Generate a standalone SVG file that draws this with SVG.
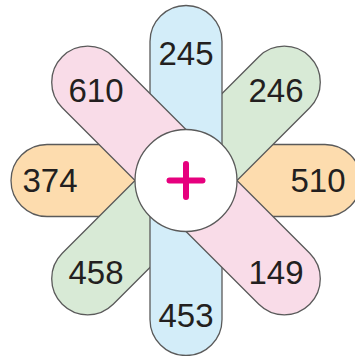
<svg xmlns="http://www.w3.org/2000/svg" width="355" height="356" viewBox="0 0 355 356">
<style>
.pill{stroke:#5a5a5a;stroke-width:1.3}
.num{font-family:"Liberation Sans",Arial,sans-serif;font-size:33px;fill:#231f20;text-anchor:middle}
</style>
<rect width="355" height="356" fill="#fff"/>
<g transform="translate(186,180.5)">
<g id="petal-horizontal"><rect class="pill" x="-175" y="-36" width="350" height="72" rx="36" fill="#fddcae"/></g>
<g id="petal-green"><rect class="pill" x="-175" y="-36" width="350" height="72" rx="36" fill="#d8ead6" transform="rotate(-45)"/></g>
<g id="petal-blue"><rect class="pill" x="-175" y="-36" width="350" height="72" rx="36" fill="#d3edf9" transform="rotate(90)"/></g>
<g id="petal-pink"><rect class="pill" x="-175" y="-36" width="350" height="72" rx="36" fill="#f9dce8" transform="rotate(45)"/></g>
<g id="center"><circle r="51" fill="#fff" stroke="#5a5a5a" stroke-width="1.3"/>
<path d="M-16.5 0H16.5M0 -16.5V16.5" stroke="#e6007e" stroke-width="6" stroke-linecap="round"/></g>
</g>
<g id="labels">
<text class="num" x="186" y="65">245</text>
<text class="num" x="96" y="102">610</text>
<text class="num" x="276" y="102">246</text>
<text class="num" x="50" y="192">374</text>
<text class="num" x="318" y="192">510</text>
<text class="num" x="96" y="284">458</text>
<text class="num" x="276" y="284">149</text>
<text class="num" x="186" y="327">453</text>
</g>
</svg>
